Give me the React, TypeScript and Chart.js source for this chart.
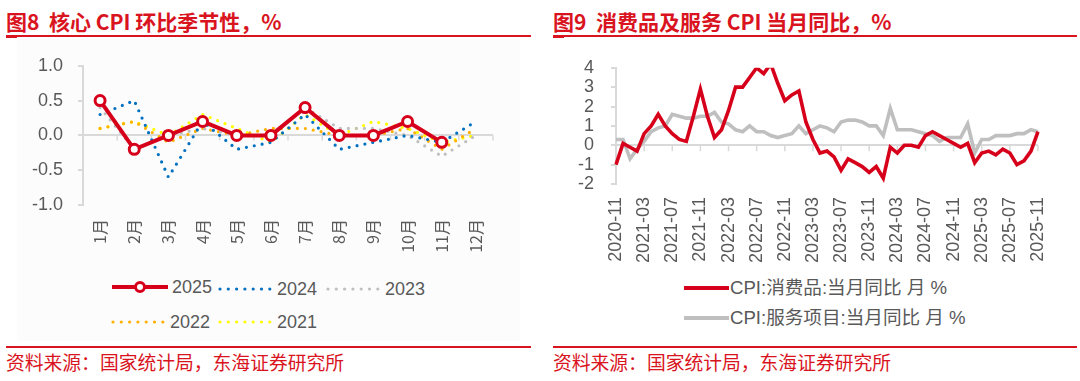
import React, { useEffect, useRef } from "react";
import { Chart, registerables } from "chart.js";

Chart.register(...registerables);

// ---------- Left chart data: 核心 CPI 环比季节性 ----------
const months = ["1月", "2月", "3月", "4月", "5月", "6月", "7月", "8月", "9月", "10月", "11月", "12月"];
const y2025 = [0.5, -0.2, 0.0, 0.2, 0.0, 0.0, 0.4, 0.0, 0.0, 0.2, -0.1, null];
const y2024 = [0.3, 0.5, -0.6, 0.2, -0.2, -0.1, 0.3, -0.2, -0.1, 0.0, -0.1, 0.2];
const y2023 = [0.4, -0.2, 0.0, 0.1, 0.0, 0.0, 0.4, 0.1, 0.1, 0.0, -0.3, 0.0];
const y2022 = [0.1, 0.2, -0.1, 0.1, 0.0, 0.1, 0.1, 0.0, 0.0, 0.1, -0.2, 0.1];
const y2021 = [0.1, 0.2, 0.0, 0.3, 0.1, -0.1, 0.3, 0.0, 0.2, 0.1, -0.1, 0.0];

// ---------- Right chart data: 消费品及服务 CPI 当月同比 ----------
const cpiMonths = [
  "2020-11", "2020-12",
  "2021-01", "2021-02", "2021-03", "2021-04", "2021-05", "2021-06", "2021-07", "2021-08", "2021-09", "2021-10", "2021-11", "2021-12",
  "2022-01", "2022-02", "2022-03", "2022-04", "2022-05", "2022-06", "2022-07", "2022-08", "2022-09", "2022-10", "2022-11", "2022-12",
  "2023-01", "2023-02", "2023-03", "2023-04", "2023-05", "2023-06", "2023-07", "2023-08", "2023-09", "2023-10", "2023-11", "2023-12",
  "2024-01", "2024-02", "2024-03", "2024-04", "2024-05", "2024-06", "2024-07", "2024-08", "2024-09", "2024-10", "2024-11", "2024-12",
  "2025-01", "2025-02", "2025-03", "2025-04", "2025-05", "2025-06", "2025-07", "2025-08", "2025-09", "2025-10", "2025-11",
];
const goodsYoY = [
  -1.0, 0.1,
  -0.1, -0.3, 0.6, 1.0, 1.6, 1.0, 0.6, 0.3, 0.2, 1.5, 2.9, 1.5,
  0.4, 0.8, 1.8, 3.0, 3.0, 3.5, 4.0, 3.7, 4.2, 3.2, 2.3, 2.6,
  2.8, 1.2, 0.3, -0.4, -0.3, -0.6, -1.3, -0.7, -0.9, -1.1, -1.4, -1.1,
  -1.7, -0.1, -0.4, 0.0, 0.0, -0.1, 0.5, 0.7, 0.5, 0.3, 0.1, -0.1,
  0.1, -0.9, -0.4, -0.3, -0.5, -0.2, -0.4, -1.0, -0.8, -0.3, 0.7,
];
const servicesYoY = [
  0.3, 0.3,
  -0.7, -0.2, 0.2, 0.7, 0.9, 1.0, 1.6, 1.5, 1.4, 1.4, 1.5, 1.5,
  1.7, 1.2, 1.1, 0.8, 0.7, 1.0, 0.7, 0.7, 0.5, 0.4, 0.5, 0.6,
  1.0, 0.6, 0.8, 1.0, 0.9, 0.7, 1.2, 1.3, 1.3, 1.2, 1.0, 1.0,
  0.5, 1.9, 0.8, 0.8, 0.8, 0.7, 0.6, 0.5, 0.2, 0.4, 0.4, 0.4,
  1.1, -0.4, 0.3, 0.3, 0.5, 0.5, 0.5, 0.6, 0.6, 0.8, 0.7,
];

const RED = "#d7001b";
const TITLE_RED = "#d9141e";
const BLUE = "#0070c0";
const GRAY = "#bfbfbf";
const ORANGE = "#ffb000";
const YELLOW = "#ffff00";
const AXIS = "#d9d9d9";
const TEXT = "#595959";
const FONT = "'Liberation Sans', Arial, 'Noto Sans CJK SC', sans-serif";
const CJK = "'Noto Sans CJK SC', 'Liberation Sans', sans-serif";

// Draws small tick marks hanging below the zero line (Excel style axis crossing at 0)
function zeroTicks(mode: "between" | "every4", len: number) {
  return {
    id: "zeroTicks" + mode,
    beforeDatasetsDraw(chart: any) {
      const x = chart.scales.x;
      const y = chart.scales.y;
      const y0 = y.getPixelForValue(0);
      const ctx = chart.ctx;
      ctx.save();
      ctx.strokeStyle = AXIS;
      ctx.lineWidth = 1.5;
      const xs: number[] = [];
      const n = chart.data.labels.length;
      if (mode === "between") {
        for (let i = 0; i <= n; i++) {
          if (i === 0) xs.push(chart.chartArea.left);
          else if (i === n) xs.push(chart.chartArea.right);
          else xs.push((x.getPixelForValue(i - 1) + x.getPixelForValue(i)) / 2);
        }
      } else {
        for (let i = 0; i < n; i += 4) xs.push(x.getPixelForValue(i));
      }
      ctx.beginPath();
      for (const px of xs) {
        ctx.moveTo(px, y0);
        ctx.lineTo(px, y0 + len);
      }
      ctx.stroke();
      ctx.restore();
    },
  };
}

function dotted(label: string, data: (number | null)[], color: string) {
  return {
    label,
    data,
    borderColor: color,
    backgroundColor: color,
    borderWidth: 3.2,
    borderDash: [0, 8],
    borderCapStyle: "round" as const,
    pointRadius: 0,
    tension: 0,
  };
}

function DottedSwatch({ color }: { color: string }) {
  return (
    <svg width={56} height={10} style={{ display: "block" }}>
      <line x1={3} y1={5} x2={53} y2={5} stroke={color} strokeWidth={3.2} strokeDasharray="0 8.3" strokeLinecap="round" />
    </svg>
  );
}

export default function App() {
  const leftRef = useRef<HTMLCanvasElement>(null);
  const rightRef = useRef<HTMLCanvasElement>(null);

  useEffect(() => {
    const left = new Chart(leftRef.current!, {
      type: "line",
      data: {
        labels: months,
        datasets: [
          {
            label: "2025",
            data: y2025,
            borderColor: RED,
            backgroundColor: RED,
            borderWidth: 4,
            pointRadius: 5,
            pointBorderWidth: 3,
            pointBackgroundColor: "#ffffff",
            pointBorderColor: RED,
            tension: 0,
          },
          dotted("2024", y2024, BLUE),
          dotted("2023", y2023, GRAY),
          dotted("2022", y2022, ORANGE),
          dotted("2021", y2021, YELLOW),
        ] as any,
      },
      options: {
        responsive: false,
        animation: false,
        layout: { padding: { top: 21, right: 37, left: 0, bottom: 0 } },
        plugins: { legend: { display: false }, tooltip: { enabled: false } },
        scales: {
          x: {
            offset: true,
            grid: { display: false, drawTicks: false },
            border: { display: false },
            ticks: {
              minRotation: 90,
              maxRotation: 90,
              autoSkip: false,
              padding: 14,
              color: TEXT,
              font: { family: CJK, size: 16 },
            },
            afterFit: (s: any) => {
              s.height = 50;
            },
          },
          y: {
            min: -1,
            max: 1,
            ticks: {
              stepSize: 0.5,
              autoSkip: false,
              padding: 15,
              color: TEXT,
              font: { family: FONT, size: 18 },
              callback: (v: any) => Number(v).toFixed(1),
            },
            grid: {
              color: (c: any) => (c.tick && c.tick.value === 0 ? AXIS : "rgba(0,0,0,0)"),
              tickColor: AXIS,
              tickLength: 5,
              lineWidth: 2,
            },
            border: { display: true, color: AXIS, width: 2 },
            afterFit: (s: any) => {
              s.width = 66;
            },
          },
        },
      },
      plugins: [zeroTicks("between", 5)],
    });

    const right = new Chart(rightRef.current!, {
      type: "line",
      data: {
        labels: cpiMonths,
        datasets: [
          {
            label: "CPI:消费品:当月同比 月 %",
            data: goodsYoY,
            borderColor: RED,
            backgroundColor: RED,
            borderWidth: 3.6,
            pointRadius: 0,
            tension: 0,
          },
          {
            label: "CPI:服务项目:当月同比 月 %",
            data: servicesYoY,
            borderColor: GRAY,
            backgroundColor: GRAY,
            borderWidth: 3.6,
            pointRadius: 0,
            tension: 0,
          },
        ],
      },
      options: {
        responsive: false,
        animation: false,
        layout: { padding: { top: 21, right: 39, left: 0, bottom: 0 } },
        plugins: { legend: { display: false }, tooltip: { enabled: false } },
        scales: {
          x: {
            offset: false,
            grid: { display: false, drawTicks: false },
            border: { display: false },
            ticks: {
              minRotation: 90,
              maxRotation: 90,
              autoSkip: false,
              padding: 13,
              color: TEXT,
              font: { family: FONT, size: 18 },
              callback: function (this: any, v: any, i: number) {
                return i % 4 === 0 ? this.getLabelForValue(v) : "";
              },
            },
            afterFit: (s: any) => {
              s.height = 91;
            },
          },
          y: {
            min: -2,
            max: 4,
            ticks: {
              stepSize: 1,
              autoSkip: false,
              padding: 17,
              color: TEXT,
              font: { family: FONT, size: 18 },
            },
            grid: {
              color: (c: any) => (c.tick && c.tick.value === 0 ? AXIS : "rgba(0,0,0,0)"),
              tickColor: AXIS,
              tickLength: 5,
              lineWidth: 2,
            },
            border: { display: true, color: AXIS, width: 2 },
            afterFit: (s: any) => {
              s.width = 63;
            },
          },
        },
      },
      plugins: [zeroTicks("every4", 6)],
    });

    return () => {
      left.destroy();
      right.destroy();
    };
  }, []);

  const titleStyle: React.CSSProperties = {
    position: "absolute",
    top: 9,
    fontFamily: CJK,
    fontWeight: 700,
    fontSize: 21,
    lineHeight: "24px",
    color: TITLE_RED,
    whiteSpace: "pre",
  };
  const sourceStyle: React.CSSProperties = {
    position: "absolute",
    top: 351,
    fontFamily: CJK,
    fontSize: 18.8,
    lineHeight: "22px",
    color: TITLE_RED,
    whiteSpace: "pre",
  };
  const legendText: React.CSSProperties = {
    fontFamily: FONT,
    fontSize: 18,
    color: TEXT,
    lineHeight: "20px",
    whiteSpace: "pre",
  };
  const row: React.CSSProperties = { position: "absolute", display: "flex", alignItems: "center" };

  return (
    <div
      style={{
        position: "absolute",
        left: 0,
        top: 0,
        width: 1080,
        height: 381,
        background: "#ffffff",
        overflow: "hidden",
      }}
    >
      {/* Left panel */}
      <div style={{ ...titleStyle, left: 6 }}>{"图8  核心 CPI 环比季节性，%"}</div>
      <div style={{ position: "absolute", left: 6, top: 35, width: 525, height: 2, background: TITLE_RED }} />
      <div style={{ position: "absolute", left: 6, top: 35, width: 11, height: 3, background: TITLE_RED }} />
      <div style={{ position: "absolute", left: 17, top: 39, width: 503, height: 302, background: "#fcfcfc" }} />
      <canvas
        ref={leftRef}
        width={513}
        height={215}
        style={{ position: "absolute", left: 17, top: 40, width: 513, height: 215 }}
      />
      <div style={{ ...row, left: 110, top: 277 }}>
        <svg width={60} height={14} style={{ display: "block" }}>
          <line x1={2} y1={7} x2={58} y2={7} stroke={RED} strokeWidth={4} />
          <circle cx={30} cy={7} r={4.5} fill="#ffffff" stroke={RED} strokeWidth={3} />
        </svg>
        <span style={{ ...legendText, marginLeft: 2 }}>2025</span>
      </div>
      <div style={{ ...row, left: 217, top: 279 }}>
        <DottedSwatch color={BLUE} />
        <span style={{ ...legendText, marginLeft: 4 }}>2024</span>
      </div>
      <div style={{ ...row, left: 325, top: 279 }}>
        <DottedSwatch color={GRAY} />
        <span style={{ ...legendText, marginLeft: 4 }}>2023</span>
      </div>
      <div style={{ ...row, left: 110, top: 312 }}>
        <DottedSwatch color={ORANGE} />
        <span style={{ ...legendText, marginLeft: 4 }}>2022</span>
      </div>
      <div style={{ ...row, left: 217, top: 312 }}>
        <DottedSwatch color={YELLOW} />
        <span style={{ ...legendText, marginLeft: 4 }}>2021</span>
      </div>
      <div style={{ position: "absolute", left: 6, top: 346, width: 525, height: 2, background: TITLE_RED }} />
      <div style={{ ...sourceStyle, left: 6 }}>{"资料来源：国家统计局，东海证券研究所"}</div>

      {/* Right panel */}
      <div style={{ ...titleStyle, left: 553 }}>{"图9  消费品及服务 CPI 当月同比，%"}</div>
      <div style={{ position: "absolute", left: 553, top: 35, width: 524, height: 2, background: TITLE_RED }} />
      <div style={{ position: "absolute", left: 553, top: 35, width: 11, height: 3, background: TITLE_RED }} />
      <canvas
        ref={rightRef}
        width={524}
        height={235}
        style={{ position: "absolute", left: 553, top: 40, width: 524, height: 235 }}
      />
      <div style={{ ...row, left: 684, top: 278 }}>
        <div style={{ width: 45, height: 4, background: RED }} />
        <span style={{ ...legendText, fontSize: 18.6, marginLeft: 1 }}>{"CPI:消费品:当月同比 月 %"}</span>
      </div>
      <div style={{ ...row, left: 684, top: 308 }}>
        <div style={{ width: 45, height: 4, background: GRAY }} />
        <span style={{ ...legendText, fontSize: 18.6, marginLeft: 1 }}>{"CPI:服务项目:当月同比 月 %"}</span>
      </div>
      <div style={{ position: "absolute", left: 553, top: 346, width: 524, height: 2, background: TITLE_RED }} />
      <div style={{ ...sourceStyle, left: 553 }}>{"资料来源：国家统计局，东海证券研究所"}</div>
    </div>
  );
}
